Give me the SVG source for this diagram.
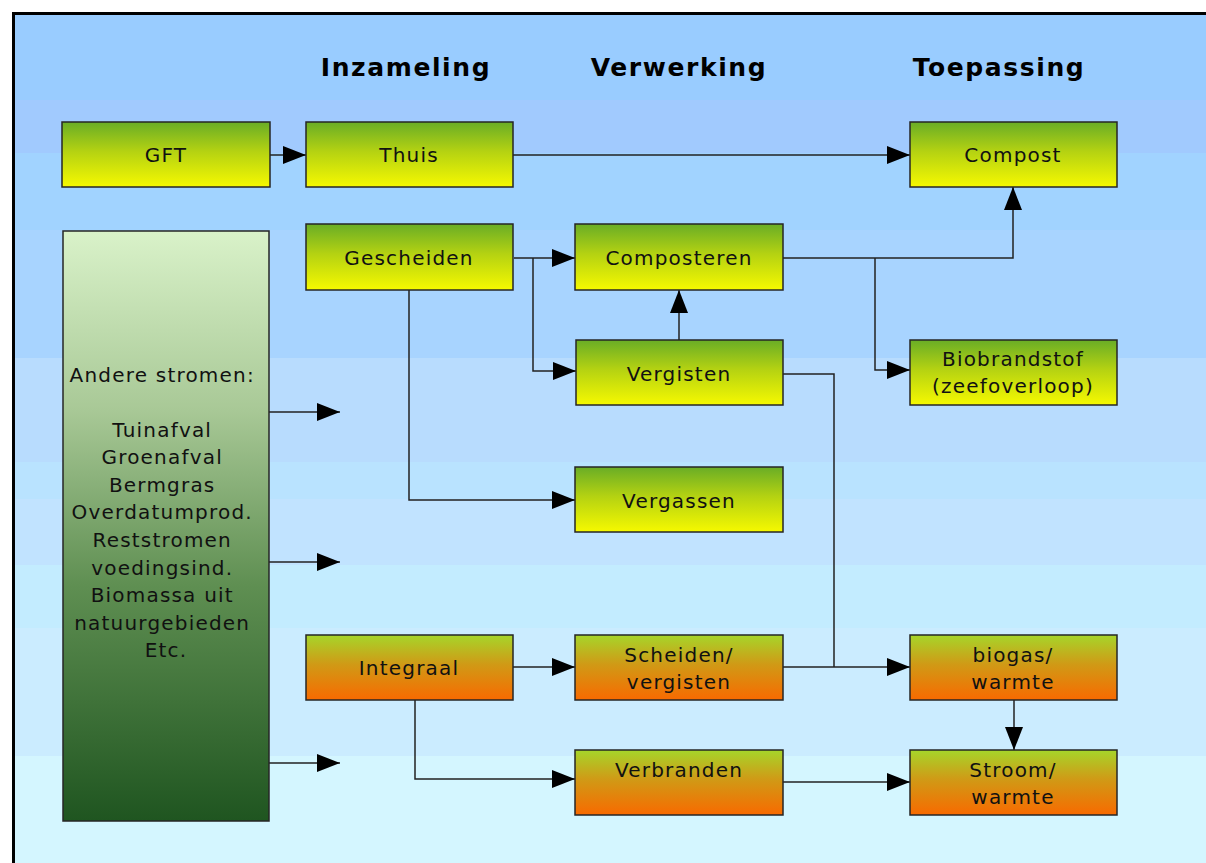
<svg xmlns="http://www.w3.org/2000/svg" width="1206" height="863" viewBox="0 0 1206 863">
<style>
.box{stroke:#262626;stroke-width:1.5}
.gy{fill:url(#gy)}
.go{fill:url(#go)}
.t{font-family:"DejaVu Sans","Verdana",sans-serif;font-size:20px;fill:#111;text-anchor:middle;letter-spacing:1.2px}
.h{font-family:"DejaVu Sans","Verdana",sans-serif;font-size:25px;font-weight:bold;fill:#000;text-anchor:middle;letter-spacing:1.6px}
.c{fill:none;stroke:#222;stroke-width:1.5}
</style>
<defs>
<linearGradient id="gy" x1="0" y1="0" x2="0" y2="1">
<stop offset="0" stop-color="#69ad26"/>
<stop offset="0.45" stop-color="#b4d212"/>
<stop offset="1" stop-color="#f6f900"/>
</linearGradient>
<linearGradient id="go" x1="0" y1="0" x2="0" y2="1">
<stop offset="0" stop-color="#a6d62a"/>
<stop offset="0.45" stop-color="#d09a16"/>
<stop offset="1" stop-color="#f86a00"/>
</linearGradient>
<linearGradient id="gl" x1="0" y1="0" x2="0" y2="1">
<stop offset="0" stop-color="#d9f2c9"/>
<stop offset="0.3" stop-color="#a9c997"/>
<stop offset="0.6" stop-color="#5f8f52"/>
<stop offset="1" stop-color="#1f5520"/>
</linearGradient>
<marker id="ar" markerUnits="userSpaceOnUse" markerWidth="26" markerHeight="20" refX="23" refY="9" orient="auto">
<path d="M0,0 L23,9 L0,18 Z" fill="#000"/>
</marker>
</defs>
<rect x="0" y="0" width="1206" height="863" fill="#ffffff"/>
<g id="background">
<rect x="14" y="14" width="1192" height="86" fill="#99ccff"/>
<rect x="14" y="100" width="1192" height="53" fill="#a1cafe"/>
<rect x="14" y="153" width="1192" height="77" fill="#a1d3ff"/>
<rect x="14" y="230" width="1192" height="128" fill="#a8d4ff"/>
<rect x="14" y="358" width="1192" height="104" fill="#b8dcfe"/>
<rect x="14" y="462" width="1192" height="37" fill="#b9e3ff"/>
<rect x="14" y="499" width="1192" height="66" fill="#c1e3ff"/>
<rect x="14" y="565" width="1192" height="63" fill="#c3ecff"/>
<rect x="14" y="628" width="1192" height="128" fill="#cbecff"/>
<rect x="14" y="756" width="1192" height="107" fill="#d4f6ff"/>
<path d="M13.5,875 L13.5,13.5 L1220,13.5" fill="none" stroke="#000" stroke-width="3"/>
</g>
<g id="headers">
<text class="h" x="406" y="76">Inzameling</text>
<text class="h" x="679" y="76">Verwerking</text>
<text class="h" x="999" y="76">Toepassing</text>
</g>
<g id="connectors">
<path class="c" d="M270,155 L306,155" marker-end="url(#ar)"/>
<path class="c" d="M513,155 L910,155" marker-end="url(#ar)"/>
<path class="c" d="M514,258 L575,258" marker-end="url(#ar)"/>
<path class="c" d="M533,258 L533,371 L576,371" marker-end="url(#ar)"/>
<path class="c" d="M409,290 L409,500 L575,500" marker-end="url(#ar)"/>
<path class="c" d="M679,340 L679,290" marker-end="url(#ar)"/>
<path class="c" d="M783,258 L1013,258 L1013,187" marker-end="url(#ar)"/>
<path class="c" d="M875,258 L875,370 L910,370" marker-end="url(#ar)"/>
<path class="c" d="M783,374 L834,374 L834,667"/>
<path class="c" d="M513,667 L575,667" marker-end="url(#ar)"/>
<path class="c" d="M783,667 L910,667" marker-end="url(#ar)"/>
<path class="c" d="M415,700 L415,779 L575,779" marker-end="url(#ar)"/>
<path class="c" d="M783,782 L910,782" marker-end="url(#ar)"/>
<path class="c" d="M1014,700 L1014,750" marker-end="url(#ar)"/>
<path class="c" d="M269,412 L340,412" marker-end="url(#ar)"/>
<path class="c" d="M269,562 L340,562" marker-end="url(#ar)"/>
<path class="c" d="M269,763 L340,763" marker-end="url(#ar)"/>
</g>
<g id="n-gft"><rect class="box gy" x="62" y="122" width="208" height="65"/><text class="t" x="166" y="162">GFT</text></g>
<g id="n-thuis"><rect class="box gy" x="306" y="122" width="207" height="65"/><text class="t" x="409" y="162">Thuis</text></g>
<g id="n-compost"><rect class="box gy" x="910" y="122" width="207" height="65"/><text class="t" x="1013" y="162">Compost</text></g>
<g id="n-gescheiden"><rect class="box gy" x="306" y="224" width="207" height="66"/><text class="t" x="409" y="265">Gescheiden</text></g>
<g id="n-composteren"><rect class="box gy" x="575" y="224" width="208" height="66"/><text class="t" x="679" y="265">Composteren</text></g>
<g id="n-vergisten"><rect class="box gy" x="576" y="340" width="207" height="65"/><text class="t" x="679" y="381">Vergisten</text></g>
<g id="n-biobrandstof"><rect class="box gy" x="910" y="340" width="207" height="65"/><text class="t" x="1013" y="366">Biobrandstof</text><text class="t" x="1013" y="393">(zeefoverloop)</text></g>
<g id="n-vergassen"><rect class="box gy" x="575" y="467" width="208" height="65"/><text class="t" x="679" y="508">Vergassen</text></g>
<g id="n-integraal"><rect class="box go" x="306" y="635" width="207" height="65"/><text class="t" x="409" y="675">Integraal</text></g>
<g id="n-scheiden"><rect class="box go" x="575" y="635" width="208" height="65"/><text class="t" x="679" y="662">Scheiden/</text><text class="t" x="679" y="689">vergisten</text></g>
<g id="n-biogas"><rect class="box go" x="910" y="635" width="207" height="65"/><text class="t" x="1013" y="662">biogas/</text><text class="t" x="1013" y="689">warmte</text></g>
<g id="n-verbranden"><rect class="box go" x="575" y="750" width="208" height="65"/><text class="t" x="679" y="777">Verbranden</text></g>
<g id="n-stroom"><rect class="box go" x="910" y="750" width="207" height="65"/><text class="t" x="1013" y="777">Stroom/</text><text class="t" x="1013" y="804">warmte</text></g>
<g id="n-andere">
<rect class="box" fill="url(#gl)" x="63" y="231" width="206" height="590"/>
<text class="t">
<tspan x="166" y="382">Andere stromen:</tspan>
<tspan x="166" y="437">Tuinafval</tspan>
<tspan x="166" y="464">Groenafval</tspan>
<tspan x="166" y="492">Bermgras</tspan>
<tspan x="166" y="519">Overdatumprod.</tspan>
<tspan x="166" y="547">Reststromen</tspan>
<tspan x="166" y="575">voedingsind.</tspan>
<tspan x="166" y="602">Biomassa uit</tspan>
<tspan x="166" y="630">natuurgebieden</tspan>
<tspan x="166" y="657">Etc.</tspan>
</text>
</g>
</svg>
